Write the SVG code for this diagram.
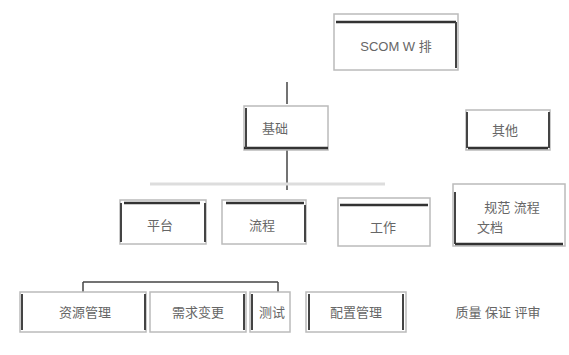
<svg xmlns="http://www.w3.org/2000/svg" width="569" height="355" viewBox="0 0 569 355">
<style>
.box{fill:#fff;stroke:#bbb;stroke-width:1.5}
.top{stroke:#333;stroke-width:2.5}
.side{stroke:#444;stroke-width:2}
.t{font-family:"Liberation Sans","Noto Sans CJK SC",sans-serif;font-size:13px;fill:#666;text-anchor:middle}
.c{stroke:#444;stroke-width:1.5;fill:none}
.lc{stroke:#ddd;stroke-width:3;fill:none}
</style>
<rect width="569" height="355" fill="#fff"/>
<g id="connectors">
<line class="c" x1="287" y1="82" x2="287" y2="104"/>
<line class="c" x1="287" y1="150" x2="287" y2="190"/>
<line class="lc" x1="150" y1="184" x2="385" y2="184"/>
<line class="c" x1="83" y1="282" x2="278" y2="282"/>
<line class="c" x1="83" y1="282" x2="83" y2="292"/>
<line class="c" x1="278" y1="282" x2="278" y2="292"/>
</g>
<g id="n1"><rect class="box" x="334" y="14" width="124" height="56"/><line class="top" x1="336" y1="22" x2="456" y2="22"/><line class="side" x1="456" y1="22" x2="456" y2="68"/><text class="t" x="396" y="51">SCOM W 排</text></g>
<g id="n2"><rect class="box" x="244" y="106" width="84" height="44"/><line class="top" x1="244" y1="148" x2="328" y2="148"/><line class="side" x1="246" y1="108" x2="246" y2="148"/><text class="t" x="275" y="133">基础</text></g>
<g id="n3"><rect class="box" x="466" y="110" width="84" height="40"/><line class="top" x1="468" y1="148" x2="548" y2="148"/><line class="side" x1="467" y1="112" x2="467" y2="148"/><line class="side" x1="549" y1="112" x2="549" y2="148"/><text class="t" x="505" y="135">其他</text></g>
<g id="n4"><rect class="box" x="120" y="200" width="86" height="44"/><line class="top" x1="124" y1="203" x2="200" y2="203"/><line class="side" x1="121" y1="203" x2="121" y2="242"/><line class="side" x1="205" y1="203" x2="205" y2="242"/><text class="t" x="160" y="230">平台</text></g>
<g id="n5"><rect class="box" x="222" y="200" width="84" height="44"/><line class="top" x1="226" y1="203" x2="304" y2="203"/><line class="side" x1="305" y1="205" x2="305" y2="242"/><text class="t" x="262" y="230">流程</text></g>
<g id="n6"><rect class="box" x="338" y="198" width="92" height="48"/><line class="top" x1="340" y1="205" x2="428" y2="205"/><text class="t" x="383" y="232">工作</text></g>
<g id="n7"><rect class="box" x="453" y="184" width="112" height="62"/><line class="side" x1="455" y1="192" x2="455" y2="244"/><line class="top" x1="455" y1="244" x2="563" y2="244"/><text class="t" x="512" y="212">规范 流程</text><text class="t" x="490" y="232">文档</text></g>
<g id="n8"><rect class="box" x="20" y="292" width="126" height="40"/><line class="side" x1="22" y1="294" x2="22" y2="330"/><line class="side" x1="145" y1="294" x2="145" y2="330"/><text class="t" x="85" y="317">资源管理</text></g>
<g id="n9"><rect class="box" x="150" y="292" width="96" height="40"/><line class="side" x1="244" y1="294" x2="244" y2="330"/><text class="t" x="198" y="317">需求变更</text></g>
<g id="n10"><rect class="box" x="250" y="292" width="40" height="40"/><line class="side" x1="252" y1="294" x2="252" y2="330"/><text class="t" x="272" y="317">测试</text></g>
<g id="n11"><rect class="box" x="306" y="292" width="100" height="40"/><line class="side" x1="309" y1="294" x2="309" y2="330"/><line class="side" x1="403" y1="294" x2="403" y2="330"/><text class="t" x="356" y="317">配置管理</text></g>
<g id="n12"><text class="t" x="498" y="317">质量 保证 评审</text></g>
</svg>
